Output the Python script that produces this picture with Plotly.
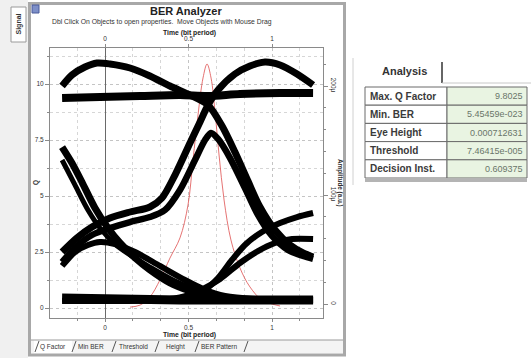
import plotly.graph_objects as go

W, H = 531, 358
FONT = "Liberation Sans, Arial, sans-serif"

# ---------------- data (time in bit periods, amplitude in µ a.u.) ----------------
time_top = [-0.257, -0.030, 0.210, 0.449, 0.617, 0.808, 1.048, 1.246]
amp_top = [189.0, 189.9, 190.8, 191.7, 190.8, 192.7, 193.6, 193.6]

time_arc_left = [-0.257, -0.198, -0.120, -0.048, 0.030, 0.150, 0.269, 0.389, 0.509,
                 0.617, 0.701, 0.778, 0.856, 0.928, 1.018, 1.108, 1.186, 1.246]
amp_arc_left = [200.0, 210.1, 217.4, 221.1, 220.2, 216.5, 209.2, 200.0, 191.7,
                182.6, 163.3, 139.4, 112.8, 89.0, 67.9, 54.1, 46.8, 43.1]

time_arc_right = [-0.257, -0.168, -0.078, 0.030, 0.150, 0.269, 0.341, 0.419, 0.509,
                  0.569, 0.617, 0.677, 0.778, 0.868, 0.958, 1.048, 1.150, 1.246]
amp_arc_right = [47.7, 60.6, 70.6, 78.9, 84.4, 89.0, 97.2, 118.3, 147.7,
                 167.0, 182.6, 196.3, 211.0, 218.3, 222.0, 219.3, 211.0, 200.9]

time_single_one = [-0.257, -0.168, -0.078, 0.030, 0.150, 0.269, 0.359, 0.449, 0.539, 0.599,
                   0.635, 0.677, 0.749, 0.838, 0.916, 1.000, 1.096, 1.186, 1.246]
amp_single_one = [38.5, 53.2, 63.3, 69.7, 75.2, 79.8, 86.2, 104.6, 132.1, 150.5,
                  156.9, 151.4, 133.9, 106.4, 81.7, 62.4, 49.5, 44.0, 41.3]

time_fall_a = [-0.257, -0.198, -0.138, -0.060, 0.018, 0.090, 0.180, 0.269, 0.389,
               0.509, 0.629, 0.808, 1.048, 1.246]
amp_fall_a = [144.0, 129.4, 111.9, 88.1, 69.7, 56.0, 42.2, 31.2, 19.3,
              11.9, 7.3, 4.6, 3.7, 3.7]

time_fall_b = [-0.257, -0.180, -0.102, -0.030, 0.060, 0.150, 0.269, 0.419, 0.569, 0.749]
amp_fall_b = [132.1, 109.2, 86.2, 69.7, 55.0, 45.0, 33.9, 21.1, 11.9, 5.5]

time_low_arc_left = [-0.257, -0.180, -0.102, -0.030, 0.060, 0.180, 0.329, 0.479,
                     0.587, 0.719, 0.898, 1.246]
amp_low_arc_left = [34.9, 47.7, 54.1, 56.9, 55.0, 47.7, 34.9, 22.0,
                    13.8, 7.3, 4.6, 3.7]

time_low_arc_right = [-0.257, 0.090, 0.329, 0.479, 0.587, 0.689, 0.808, 0.916, 1.018, 1.120, 1.246]
amp_low_arc_right = [2.8, 2.8, 3.7, 7.3, 13.8, 22.9, 37.6, 48.6, 56.0, 59.6, 59.6]

time_rise = [0.449, 0.587, 0.677, 0.760, 0.844, 0.940, 1.048, 1.150, 1.246]
amp_rise = [5.5, 11.9, 23.9, 40.4, 55.0, 66.1, 74.3, 79.8, 83.5]

time_bottom = [-0.257, 0.090, 0.449, 0.808, 1.246]
amp_bottom = [5.5, 4.6, 3.7, 3.7, 3.7]

q_time = [0.150, 0.210, 0.269, 0.329, 0.389, 0.449, 0.497, 0.527, 0.557, 0.587,
          0.611, 0.635, 0.659, 0.683, 0.713, 0.754, 0.808, 0.868, 0.940, 1.048]
q_value = [0.04, 0.13, 0.49, 1.25, 2.23, 3.13, 4.60, 6.61, 8.62, 10.27,
           10.89, 10.27, 8.75, 6.83, 4.82, 3.04, 1.79, 0.94, 0.36, 0.09]

time_tick_vals = [0, 0.5, 1]
time_tick_text = ["0", "0.5", "1"]
q_tick_vals = [0, 2.5, 5, 7.5, 10]
q_tick_text = ["0", "2.5", "5", "7.5", "10"]
amp_tick_vals = [0, 100, 200]
amp_tick_text = ["0", "100µ", "200µ"]

table_labels = ["Max. Q Factor", "Min. BER", "Eye Height", "Threshold", "Decision Inst."]
table_values = ["9.8025", "5.45459e-023", "0.000712631", "7.46415e-005", "0.609375"]
tab_names = ["Q Factor", "Min BER", "Threshold", "Height", "BER Pattern"]

eye_traces = [
    (time_top, amp_top, 8), (time_arc_left, amp_arc_left, 7), (time_arc_right, amp_arc_right, 7),
    (time_single_one, amp_single_one, 6.5), (time_fall_a, amp_fall_a, 7), (time_fall_b, amp_fall_b, 5),
    (time_low_arc_left, amp_low_arc_left, 6), (time_low_arc_right, amp_low_arc_right, 6),
    (time_rise, amp_rise, 6), (time_bottom, amp_bottom, 9),
]

# ---------------- layout geometry (pixels) ----------------
PL, PR, PT, PB = 50, 323, 48, 318
X0_PX, X1_PX = 105, 272          # pixel of t=0 and t=1
Q0_PX, Q_PER = 308, 22.4          # left axis
A0_PX, A_PER = 304, 1.09          # right axis

t_range = [(PL - X0_PX) / (X1_PX - X0_PX), (PR - X0_PX) / (X1_PX - X0_PX)]
q_range = [(Q0_PX - PB) / Q_PER, (Q0_PX - PT) / Q_PER]
a_range = [(A0_PX - PB) / A_PER, (A0_PX - PT) / A_PER]


def px(x):
    return (x - PL) / (PR - PL)


def py(y):
    return (PB - y) / (PB - PT)


fig = go.Figure()

for tt, aa, lw in eye_traces:
    fig.add_trace(go.Scatter(x=tt, y=aa, xaxis="x", yaxis="y2", mode="lines",
                             line=dict(color="black", width=lw, shape="spline", smoothing=0.8),
                             hoverinfo="skip"))

fig.add_trace(go.Scatter(x=q_time, y=q_value, xaxis="x", yaxis="y", mode="lines",
                         line=dict(color="rgba(222,80,80,0.8)", width=1, shape="spline"),
                         hoverinfo="skip"))
# anchor for top axis
fig.add_trace(go.Scatter(x=q_time[:1], y=q_value[:1], xaxis="x2", yaxis="y", mode="markers",
                         marker=dict(opacity=0), hoverinfo="skip"))

axcol = "#8a8a8a"
tickfont = dict(family=FONT, size=6.5, color="#333")

fig.update_layout(
    width=W, height=H, margin=dict(l=PL, r=W - PR, t=PT, b=H - PB, pad=0),
    paper_bgcolor="white", plot_bgcolor="white", showlegend=False,
    font=dict(family=FONT),
    xaxis=dict(range=t_range, tickvals=time_tick_vals, ticktext=time_tick_text,
               ticks="outside", ticklen=3, tickcolor=axcol, showline=True, linecolor=axcol,
               showgrid=True, gridcolor="#c4c4c4", griddash="dot", gridwidth=1,
               zeroline=True, zerolinecolor="#6a6a6a", zerolinewidth=1,
               minor=dict(dtick=1 / 6, tick0=0, showgrid=True, gridcolor="#d6d6d6",
                          griddash="dot", ticks="outside", ticklen=2, tickcolor=axcol),
               tickfont=tickfont, fixedrange=True),
    xaxis2=dict(overlaying="x", side="top", range=t_range, tickvals=time_tick_vals,
                ticktext=time_tick_text, ticks="outside", ticklen=3, tickcolor=axcol,
                showline=True, linecolor=axcol, showgrid=False, zeroline=False,
                tickfont=tickfont, fixedrange=True),
    yaxis=dict(range=q_range, tickvals=q_tick_vals, ticktext=q_tick_text,
               ticks="outside", ticklen=4, tickcolor=axcol, showline=True, linecolor=axcol,
               showgrid=True, gridcolor="#c4c4c4", griddash="dot", zeroline=False,
               minor=dict(dtick=1.25, tick0=0, showgrid=True, gridcolor="#d6d6d6",
                          griddash="dot", ticks="outside", ticklen=2, tickcolor=axcol),
               tickfont=tickfont, fixedrange=True),
    yaxis2=dict(overlaying="y", side="right", range=a_range, tickvals=amp_tick_vals,
                ticktext=amp_tick_text, tickangle=90, ticks="outside", ticklen=4,
                tickcolor=axcol, showline=True, linecolor=axcol, showgrid=False,
                zeroline=False,
                minor=dict(dtick=20, tick0=0, ticks="outside", ticklen=2, tickcolor=axcol),
                tickfont=tickfont, fixedrange=True),
)


def rect(x0, y0, x1, y1, fill="rgba(0,0,0,0)", lc="rgba(0,0,0,0)", lw=0, layer="above"):
    return dict(type="rect", xref="paper", yref="paper", x0=px(x0), x1=px(x1),
                y0=py(y1), y1=py(y0), fillcolor=fill, line=dict(color=lc, width=lw), layer=layer)


def seg(x0, y0, x1, y1, color, width):
    return dict(type="line", xref="paper", yref="paper", x0=px(x0), x1=px(x1),
                y0=py(y0), y1=py(y1), line=dict(color=color, width=width))


shapes = []
# left strip
shapes.append(rect(0, 0, 28, H, fill="#f0f0f0", layer="below"))
shapes.append(rect(11, 7, 26, 42, fill="white", lc="#9a9a9a", lw=1, layer="below"))
# window frame
shapes.append(rect(29.5, 3.5, 344.5, 355, lc="#a8a8a8", lw=3))
# small icon
shapes.append(rect(32, 5, 39, 13, fill="#7d8fc8", lc="#4a5a9a", lw=1))
# bottom tab strip
shapes.append(rect(31, 340, 343, 353, fill="#f4f4f4", layer="below"))
shapes.append(rect(34, 340, 72, 353, fill="white", layer="below"))
shapes.append(seg(31, 340, 343, 340, "#9a9a9a", 1))
for sx in [35, 72, 112, 155, 195, 244]:
    shapes.append(seg(sx, 352, sx + 4, 341, "#555", 1))
# analysis panel
shapes.append(seg(353, 58, 353, 185, "#d0d0d0", 1))
shapes.append(seg(442, 62, 442, 83, "#333", 1.5))
shapes.append(seg(442, 83, 531, 83, "#c8c8c8", 1))
# table
row_top = 87
row_h = 18.2
tab_l, tab_m, tab_r = 365, 447, 527
for i in range(len(table_labels)):
    y0 = row_top + i * row_h
    shapes.append(rect(tab_l, y0, tab_m, y0 + row_h, fill="white", lc="#6a6a6a", lw=1))
    shapes.append(rect(tab_m, y0, tab_r, y0 + row_h, fill="#e9f4e2", lc="#6a6a6a", lw=1))
shapes.append(seg(tab_l, row_top + 5 * row_h + 2.5, tab_r, row_top + 5 * row_h + 2.5, "#b4b4b4", 3))

annotations = []


def txt(x, y, s, size, color="#222", xanchor="center", angle=0, bold=False):
    annotations.append(dict(xref="paper", yref="paper", x=px(x), y=py(y),
                            text=("<b>%s</b>" % s) if bold else s, showarrow=False,
                            xanchor=xanchor, yanchor="middle", textangle=angle,
                            font=dict(family=FONT, size=size, color=color)))


txt(186, 11, "BER Analyzer", 11, bold=True)
txt(162, 22, "Dbl Click On Objects to open properties.  Move Objects with Mouse Drag", 6.8, color="#333")
txt(189, 32.5, "Time (bit period)", 6.8, bold=True)
txt(189, 335, "Time (bit period)", 6.8, bold=True)
txt(36, 183, "Q", 6.5, angle=-90, bold=True, color="#333")
txt(340, 183, "Amplitude (a.u.)", 6.3, angle=90, bold=True, color="#333")
txt(18.5, 24, "Signal", 7, angle=-90, bold=True, color="#333")
txt(404, 71, "Analysis", 11, bold=True, color="#333")
for i, (lab, val) in enumerate(zip(table_labels, table_values)):
    yc = row_top + i * row_h + row_h / 2
    txt(368, yc, lab, 10, xanchor="left", bold=True, color="#3a3a3a")
    txt(525, yc, val, 9, xanchor="right", color="#6a766a")
tab_x = [53, 91, 133, 175, 219]
for name, x in zip(tab_names, tab_x):
    txt(x, 346.5, name, 6.5, color="#333")

fig.update_layout(shapes=shapes, annotations=annotations)
fig.write_html("out.html")
